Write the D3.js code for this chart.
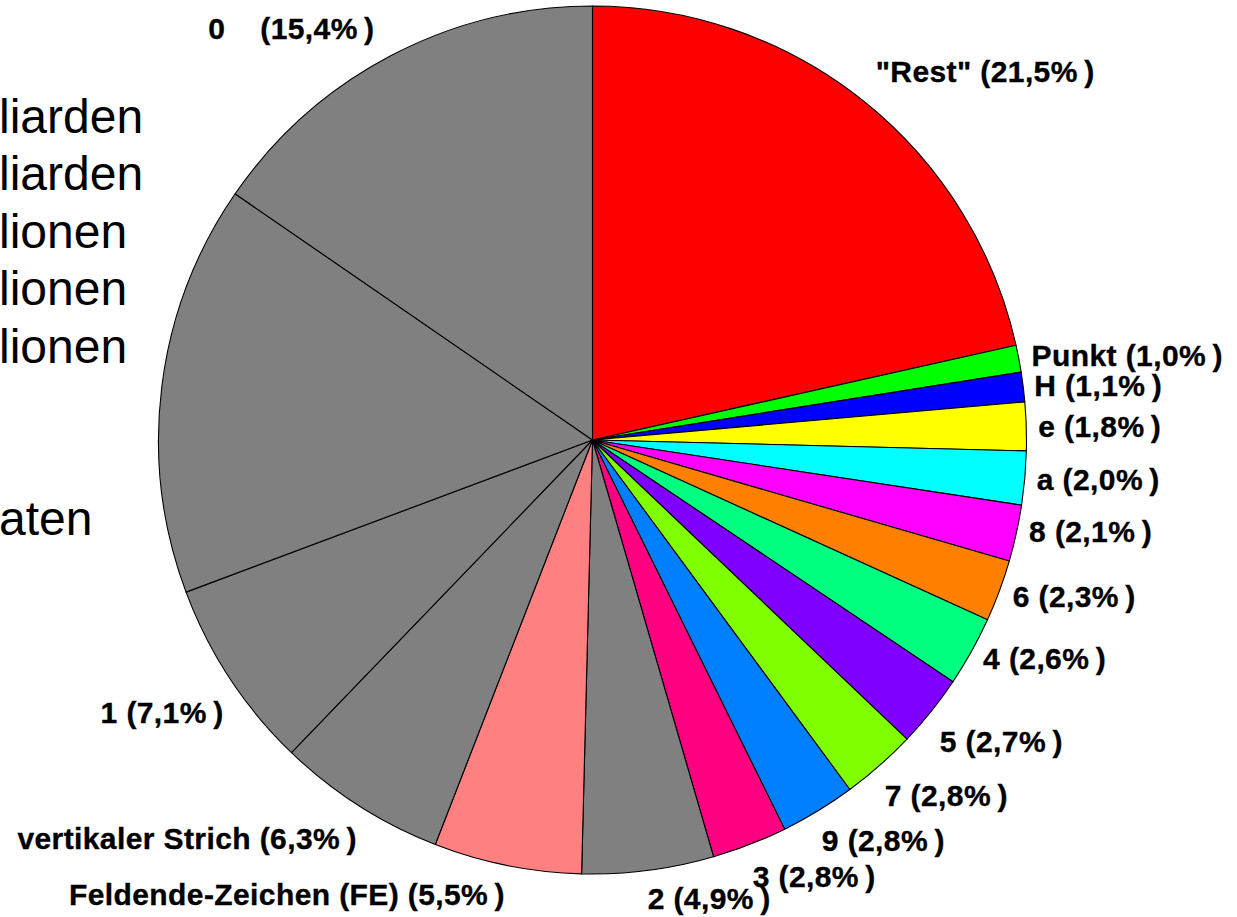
<!DOCTYPE html>
<meta charset="utf-8">
<style>
    body { margin: 0; background: #fff; }
    svg { display: block; }
</style>
<body>
<div class="chart"></div>
<script src="https://d3js.org/d3.v7.min.js"></script>
<script>

    // slice order: clockwise from 12 o'clock
    const categories = ['"Rest"', "Punkt", "H", "e", "a", "8", "6", "4", "5", "7", "9", "3", "2",
        "Feldende-Zeichen (FE)", "vertikaler Strich", "1", "", "0"];
    const shares = [21.5, 1.0, 1.1, 1.8, 2.0, 2.1, 2.3, 2.6, 2.7, 2.8, 2.8, 2.8, 4.9,
        5.5, 6.3, 7.1, 15.3, 15.4];
    const sliceColors = ["#ff0000", "#00ff00", "#0000ff", "#ffff00", "#00ffff", "#ff00ff", "#ff8000",
        "#00ff80", "#8000ff", "#80ff00", "#0080ff", "#ff0080", "#808080",
        "#ff8080", "#808080", "#808080", "#808080", "#808080"];
    // clipped text block at the left border
    const sideLines = ["liarden", "liarden", "lionen", "lionen", "lionen", "", "", "aten"];

    // nudges of each label away from its anchor on the label ring
    const labelNudge = [[5, -21], [2, -1], [0, 0], [1, 0], [1, 0], [2, -4], [3, 2], [2, 2], [0, 23],
        [-2, 22], [-2, 20], [-1, 22], [-2, 17], [0, 18], [4, 24], [3, 28], [0, 0], [-11, -18]];

    function pieChart() {
        let width = 1237;
        let height = 917;
        let cx = 592.5, cy = 440, radius = 434, labelRadius = 445;

        function chart(selection) {
            let data = categories.map((c, i) => ({cat: c, value: shares[i], color: sliceColors[i], i: i}));
            let fmt = d3.formatLocale({decimal: ",", thousands: ".", grouping: [3], currency: ["", "€"]}).format(".1f");

            let svg = selection.append("svg")
                .attr("width", width)
                .attr("height", height);

            let g = svg.append("g")
                .attr("transform", `translate(${cx}, ${cy})`);

            let pie = d3.pie().sort(null).value(d => d.value);
            let arcs = pie(data);

            let arc = d3.arc().innerRadius(0).outerRadius(radius);
            let labelArc = d3.arc().innerRadius(labelRadius).outerRadius(labelRadius);

            g.append("g")
                .selectAll("path")
                .data(arcs)
                .join("path")
                .attr("d", arc)
                .attr("fill", d => d.data.color)
                .attr("stroke", "#000")
                .attr("stroke-width", 1.1)
                .attr("stroke-linejoin", "round");

            g.append("g")
                .attr("font-family", "'Liberation Sans', Arial, sans-serif")
                .attr("font-weight", "bold")
                .attr("font-size", 30)
                .attr("letter-spacing", "0.4px")
                .attr("fill", "#000")
                .attr("stroke", "#000")
                .attr("stroke-width", 0.35)
                .selectAll("text")
                .data(arcs.filter(d => d.data.cat !== ""))
                .join("text")
                .attr("text-anchor", d => (d.startAngle + d.endAngle) / 2 > Math.PI ? "end" : "start")
                .attr("x", d => labelArc.centroid(d)[0] + labelNudge[d.data.i][0])
                .attr("y", d => labelArc.centroid(d)[1] + labelNudge[d.data.i][1] + 10.5)
                .text(d => {
                    let sep = d.data.cat === "0" ? "\u00a0\u00a0\u00a0\u00a0" : " ";
                    return d.data.cat + sep + "(" + fmt(d.data.value) + "%\u2009)";
                });

            svg.append("g")
                .attr("font-family", "'Liberation Sans', Arial, sans-serif")
                .attr("font-size", 48)
                .attr("fill", "#000")
                .selectAll("text")
                .data(sideLines)
                .join("text")
                .attr("x", -1)
                .attr("y", (d, i) => 133 + i * 57.4)
                .text(d => d);
        }

        chart.width = function (_) {
            return arguments.length ? ((width = _), chart) : width;
        };
        chart.height = function (_) {
            return arguments.length ? ((height = _), chart) : height;
        };
        return chart;
    }

    d3.select(".chart").call(pieChart());

</script>
</body>
